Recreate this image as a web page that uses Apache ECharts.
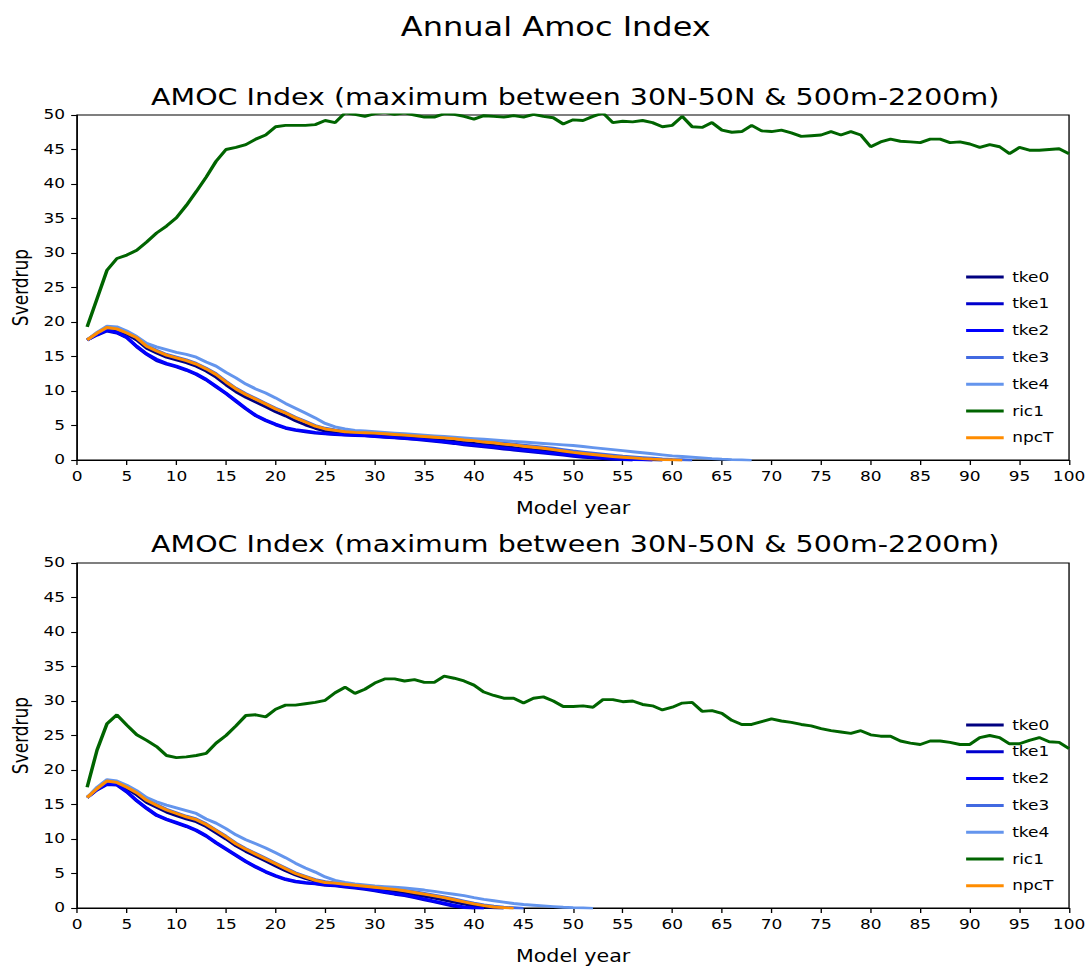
<!DOCTYPE html>
<html>
<head>
<meta charset="utf-8">
<script src="https://cdn.jsdelivr.net/npm/echarts@6/dist/echarts.min.js"></script>
<style>
  html, body { margin: 0; padding: 0; background: #fff; overflow: hidden; }
  /* the figure is drawn at 900px wide and stretched to 1091px, like the reference */
  #chart { width: 900px; height: 967px; transform: scaleX(1.2122); transform-origin: 0 0; }
</style>
</head>
<body>
<div id="chart"></div>
<script>
/* ---- data (Sverdrup per model year, year 1 onward) ---- */
const YEARS = Array.from({ length: 100 }, (_, i) => i + 1);
const NAMES = ["tke0", "tke1", "tke2", "tke3", "tke4", "ric1", "npcT"];
const COLORS = ["#000080", "#0000CD", "#0000FF", "#4169E1", "#6495ED", "#006400", "#FF8C00"];

// upper panel
const TOP_TKE0 = [17.4,18.3,19.0,18.8,18.2,17.4,16.2,15.5,14.9,14.5, 14.1,13.6,12.9,12.0,10.9,9.9,9.1,8.4,7.7,7.0,
  6.4,5.7,5.1,4.6,4.2,4.0,3.9,3.8,3.75,3.7, 3.6,3.5,3.4,3.3,3.15,3.0,2.85,2.7,2.55,2.4,
  2.25,2.1,1.95,1.8,1.65,1.5,1.35,1.2,1.05,0.9, 0.75,0.6,0.45,0.35,0.25,0.15,0.08,0.02,-0.05];
const TOP_TKE1 = [17.4,18.1,18.7,18.4,17.7,16.4,15.3,14.4,13.9,13.5, 13.0,12.4,11.6,10.6,9.6,8.5,7.4,6.4,5.7,5.1,
  4.6,4.3,4.1,3.9,3.8,3.7,3.6,3.55,3.5,3.4, 3.3,3.2,3.1,3.0,2.85,2.7,2.55,2.4,2.2,2.05,
  1.9,1.75,1.6,1.45,1.3,1.15,1.0,0.85,0.7,0.55, 0.4,0.3,0.2,0.1,0.05,-0.05];
const TOP_TKE2 = [17.4,18.2,18.8,18.5,17.8,16.5,15.4,14.6,14.0,13.6, 13.1,12.5,11.7,10.7,9.7,8.6,7.5,6.5,5.8,5.2,
  4.7,4.4,4.2,4.0,3.85,3.75,3.65,3.6,3.55,3.45, 3.35,3.25,3.15,3.05,2.95,2.8,2.65,2.5,2.35,2.2,
  2.05,1.9,1.75,1.6,1.45,1.3,1.15,1.0,0.85,0.7, 0.55,0.45,0.35,0.25,0.15,0.08,0.03,-0.05];
const TOP_TKE3 = [17.4,18.4,19.2,19.0,18.5,17.8,16.6,15.9,15.3,14.9, 14.5,14.0,13.3,12.5,11.4,10.4,9.6,8.9,8.2,7.5,
  6.9,6.2,5.6,5.0,4.6,4.35,4.15,4.05,4.0,3.95, 3.85,3.75,3.65,3.55,3.45,3.35,3.25,3.15,3.0,2.9,
  2.75,2.6,2.45,2.3,2.15,2.0,1.85,1.7,1.5,1.3, 1.15,1.0,0.85,0.7,0.55,0.45,0.35,0.25,0.15,0.08, 0.03,-0.05];
const TOP_TKE4 = [17.4,18.5,19.4,19.3,18.7,17.9,16.9,16.4,16.0,15.6, 15.3,14.9,14.2,13.6,12.7,11.9,11.0,10.3,9.7,9.0,
  8.2,7.5,6.8,6.1,5.3,4.8,4.5,4.3,4.2,4.1, 4.0,3.9,3.8,3.7,3.6,3.5,3.4,3.3,3.2,3.1,
  3.0,2.9,2.8,2.7,2.6,2.5,2.4,2.3,2.2,2.1, 1.95,1.8,1.65,1.5,1.35,1.2,1.05,0.9,0.75,0.6,
  0.5,0.4,0.3,0.2,0.12,0.06,0.02,-0.05];
const TOP_RIC1 = [19.3,23.4,27.5,29.2,29.7,30.4,31.6,32.9,33.9,35.1, 36.9,38.9,41.0,43.3,45.0,45.3,45.7,46.5,47.1,48.3,
  48.5,48.5,48.5,48.6,49.2,48.9,50.3,50.1,49.8,50.2, 50.4,50.1,50.3,50.0,49.7,49.7,50.2,50.1,49.8,49.4,
  49.9,49.8,49.7,49.9,49.7,50.1,49.8,49.6,48.7,49.3, 49.2,49.8,50.3,48.9,49.1,49.0,49.2,48.9,48.3,48.5,
  49.8,48.3,48.2,48.9,47.8,47.5,47.6,48.5,47.7,47.6, 47.8,47.4,46.9,47.0,47.1,47.6,47.1,47.6,47.1,45.4,
  46.1,46.5,46.2,46.1,46.0,46.5,46.5,46.0,46.1,45.8, 45.3,45.7,45.4,44.4,45.3,44.9,44.9,45.0,45.1,44.4];
const TOP_NPCT = [17.4,18.4,19.2,19.0,18.4,17.7,16.5,15.8,15.2,14.8, 14.4,13.9,13.2,12.4,11.3,10.3,9.5,8.8,8.1,7.4,
  6.8,6.1,5.5,4.9,4.5,4.3,4.1,4.0,3.95,3.9, 3.8,3.7,3.6,3.5,3.4,3.3,3.2,3.1,2.9,2.8,
  2.6,2.5,2.3,2.2,2.0,1.85,1.7,1.5,1.3,1.1, 0.95,0.8,0.65,0.5,0.4,0.3,0.2,0.12,0.06,0.02, -0.05];

// lower panel
const BOT_TKE0 = [16.0,17.2,18.2,18.0,17.3,16.4,15.3,14.6,13.9,13.4, 12.9,12.5,11.8,10.9,10.0,9.0,8.2,7.5,6.8,6.1,
  5.4,4.8,4.3,3.9,3.6,3.45,3.3,3.15,3.0,2.8, 2.6,2.4,2.2,1.95,1.7,1.45,1.15,0.85,0.55,0.3, 0.12,0.03,-0.05];
const BOT_TKE1 = [16.0,17.1,17.9,17.8,16.8,15.5,14.4,13.4,12.8,12.3, 11.8,11.2,10.4,9.4,8.5,7.6,6.7,5.9,5.2,4.6,
  4.1,3.8,3.6,3.5,3.3,3.2,3.05,2.9,2.7,2.5, 2.25,2.0,1.8,1.5,1.2,0.9,0.55,0.25,0.05,-0.05];
const BOT_TKE2 = [16.0,17.2,18.0,17.9,16.9,15.6,14.5,13.5,12.9,12.4, 11.9,11.3,10.5,9.5,8.6,7.7,6.8,6.0,5.3,4.7,
  4.2,3.9,3.7,3.55,3.4,3.3,3.15,3.0,2.8,2.6, 2.35,2.1,1.9,1.6,1.3,1.0,0.7,0.4,0.15,0.03, -0.05];
const BOT_TKE3 = [16.0,17.3,18.4,18.2,17.6,16.8,15.7,15.0,14.3,13.8, 13.3,12.9,12.2,11.3,10.4,9.4,8.6,7.9,7.2,6.5,
  5.8,5.1,4.6,4.1,3.8,3.65,3.5,3.35,3.2,3.05, 2.9,2.75,2.55,2.35,2.1,1.85,1.6,1.3,1.0,0.7, 0.45,0.25,0.1,0.03,-0.05];
const BOT_TKE4 = [16.0,17.5,18.6,18.4,17.8,17.0,16.0,15.4,14.9,14.5, 14.1,13.7,12.9,12.3,11.5,10.6,9.9,9.3,8.7,8.0,
  7.3,6.5,5.8,5.2,4.5,4.0,3.7,3.5,3.35,3.2, 3.1,3.0,2.9,2.75,2.6,2.4,2.2,2.0,1.8,1.5,
  1.25,1.05,0.85,0.65,0.5,0.4,0.3,0.2,0.1,0.05, 0.02,-0.05];
const BOT_RIC1 = [17.5,22.9,26.7,28.0,26.5,25.1,24.3,23.4,22.1,21.8, 21.9,22.1,22.4,23.9,25.0,26.4,27.9,28.0,27.7,28.8,
  29.4,29.4,29.6,29.8,30.1,31.2,32.0,31.1,31.7,32.6, 33.2,33.2,32.9,33.1,32.7,32.7,33.6,33.3,32.9,32.3,
  31.3,30.8,30.4,30.4,29.7,30.4,30.6,30.0,29.2,29.2, 29.3,29.1,30.2,30.2,29.9,30.0,29.5,29.3,28.7,29.1,
  29.7,29.8,28.5,28.6,28.2,27.2,26.6,26.6,27.0,27.4, 27.1,26.9,26.6,26.4,26.0,25.7,25.5,25.3,25.7,25.1,
  24.9,24.9,24.2,23.9,23.7,24.2,24.2,24.0,23.7,23.7, 24.7,25.0,24.7,23.8,23.8,24.3,24.7,24.1,24.0,23.1];
const BOT_NPCT = [16.0,17.3,18.4,18.2,17.5,16.7,15.6,14.9,14.2,13.7, 13.2,12.8,12.1,11.2,10.3,9.3,8.5,7.8,7.1,6.4,
  5.7,5.0,4.5,4.0,3.7,3.6,3.45,3.3,3.15,3.0, 2.85,2.7,2.5,2.25,2.0,1.75,1.5,1.2,0.9,0.6, 0.35,0.15,0.05,-0.05];

const TOP_SERIES = [TOP_TKE0, TOP_TKE1, TOP_TKE2, TOP_TKE3, TOP_TKE4, TOP_RIC1, TOP_NPCT];
const BOT_SERIES = [BOT_TKE0, BOT_TKE1, BOT_TKE2, BOT_TKE3, BOT_TKE4, BOT_RIC1, BOT_NPCT];

const SUPTITLE = "Annual Amoc Index";
const PANEL_TITLE = "AMOC Index (maximum between 30N-50N & 500m-2200m)";
const X_NAME = "Model year";
const Y_NAME = "Sverdrup";

/* ---- layout (in the unstretched 900px frame) ---- */
const FONT = "DejaVu Sans";
const GRID_LEFT = 60.6;
const GRID_RIGHT = 18.1;
const GRID_H = 345;
const GRID_TOPS = [115, 563];

const chart = echarts.init(document.getElementById("chart"), null, { renderer: "svg" });

const axisCommon = {
  axisLine: { show: true, lineStyle: { color: "#000", width: 1.1 } },
  axisTick: { show: true, inside: false, length: 5, lineStyle: { color: "#000", width: 1.1 } },
  splitLine: { show: false },
};

const xAxes = GRID_TOPS.map((_, i) => ({
  ...axisCommon,
  gridIndex: i,
  type: "value",
  min: 0,
  max: 100,
  interval: 5,
  name: X_NAME,
  nameLocation: "middle",
  nameGap: 39,
  nameTextStyle: { fontFamily: FONT, fontSize: 17, color: "#000" },
  axisLabel: { fontFamily: FONT, fontSize: 14, color: "#000", margin: 9 },
}));

const yAxes = GRID_TOPS.map((_, i) => ({
  ...axisCommon,
  gridIndex: i,
  type: "value",
  min: 0,
  max: 50,
  interval: 5,
  name: Y_NAME,
  nameLocation: "middle",
  nameGap: 35,
  nameTextStyle: { fontFamily: FONT, fontSize: 17, color: "#000" },
  axisLabel: { fontFamily: FONT, fontSize: 14, color: "#000", margin: 10 },
}));

const series = [];
[TOP_SERIES, BOT_SERIES].forEach((panel, gi) => {
  panel.forEach((vals, k) => {
    series.push({
      name: NAMES[k],
      type: "line",
      xAxisIndex: gi,
      yAxisIndex: gi,
      color: COLORS[k],
      showSymbol: false,
      symbol: "none",
      clip: true,
      lineStyle: { width: 2.9, color: COLORS[k] },
      data: vals.map((v, j) => [YEARS[j], v]),
    });
  });
});

// legends sit inside each panel, lower right (matplotlib "best")
const legends = [264, 712].map((top) => ({
  orient: "vertical",
  left: 792,
  top: top,
  data: NAMES,
  icon: "rect",
  itemWidth: 31,
  itemHeight: 3,
  itemGap: 10.8,
  selectedMode: false,
  textStyle: { fontFamily: FONT, fontSize: 14, color: "#000", lineHeight: 16, padding: [0, 0, 0, 2] },
}));

chart.setOption({
  backgroundColor: "#fff",
  animation: false,
  title: [
    { text: SUPTITLE, left: 453.5, top: 9, textAlign: "center",
      textStyle: { fontFamily: FONT, fontSize: 26.4, fontWeight: "normal", color: "#000" } },
    { text: PANEL_TITLE, left: 469.5, top: 80, textAlign: "center",
      textStyle: { fontFamily: FONT, fontSize: 23.5, fontWeight: "normal", color: "#000" } },
    { text: PANEL_TITLE, left: 469.5, top: 527, textAlign: "center",
      textStyle: { fontFamily: FONT, fontSize: 23.5, fontWeight: "normal", color: "#000" } },
  ],
  grid: GRID_TOPS.map((top) => ({
    left: GRID_LEFT,
    right: GRID_RIGHT,
    top: top,
    height: GRID_H,
    show: true,
    borderColor: "#000",
    borderWidth: 1.1,
    backgroundColor: "transparent",
  })),
  legend: legends,
  xAxis: xAxes,
  yAxis: yAxes,
  series: series,
});
</script>
</body>
</html>
